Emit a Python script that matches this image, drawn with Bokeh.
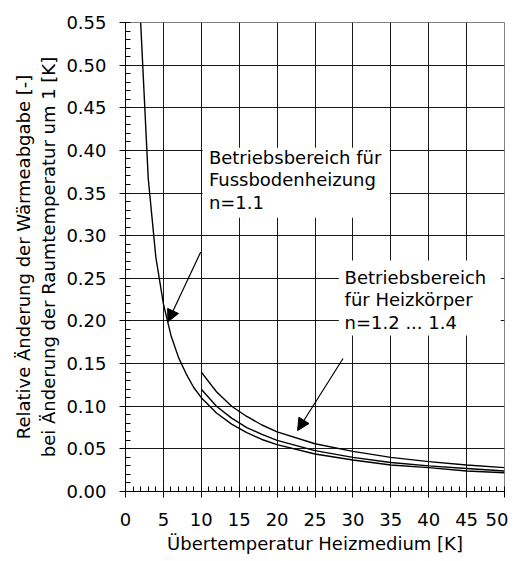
import numpy as np
from bokeh.plotting import figure
from bokeh.models import (Range1d, FixedTicker, Label, Arrow, NormalHead,
                          BoxAnnotation, NumeralTickFormatter)
from bokeh.embed import file_html
from bokeh.resources import INLINE

# ---- data ----
x_fbh = [2, 3, 4, 5, 6, 7, 8, 9, 10, 12, 14, 16, 18, 20, 25, 30, 35, 40, 45, 50]
y_fbh = [0.550, 0.367, 0.275, 0.220, 0.183, 0.157, 0.138, 0.122, 0.110, 0.092,
         0.079, 0.069, 0.061, 0.055, 0.044, 0.037, 0.031, 0.028, 0.024, 0.022]
x_hk = [10, 12, 14, 16, 18, 20, 25, 30, 35, 40, 45, 50]
y_hk12 = [0.120, 0.100, 0.086, 0.075, 0.067, 0.060, 0.048, 0.040, 0.034, 0.030, 0.027, 0.024]
y_hk14 = [0.140, 0.117, 0.100, 0.088, 0.078, 0.070, 0.056, 0.047, 0.040, 0.035, 0.031, 0.028]

x_ticks = [0, 5, 10, 15, 20, 25, 30, 35, 40, 45, 50]
y_ticks = [0.00, 0.05, 0.10, 0.15, 0.20, 0.25, 0.30, 0.35, 0.40, 0.45, 0.50, 0.55]

x_title = "Übertemperatur Heizmedium [K]"
y_title = "Relative Änderung der Wärmeabgabe [-]\nbei Änderung der Raumtemperatur um 1 [K]"
note_fbh = "Betriebsbereich für\nFussbodenheizung\nn=1.1"
note_hk = "Betriebsbereich\nfür Heizkörper\nn=1.2 ... 1.4"

FONT = "DejaVu Sans"
FS = "18px"

p = figure(frame_width=379, frame_height=469,
           x_range=Range1d(0, 50), y_range=Range1d(0, 0.55),
           output_backend="svg", toolbar_location=None,
           min_border_left=125, min_border_right=4,
           min_border_top=22, min_border_bottom=66,
           background_fill_color="white", border_fill_color="white",
           outline_line_color="#808080", outline_line_width=1)

# grid
p.xaxis.ticker = FixedTicker(ticks=x_ticks, minor_ticks=list(range(0, 51)))
p.yaxis.ticker = FixedTicker(ticks=y_ticks,
                             minor_ticks=[round(0.01 * i, 2) for i in range(56)])
p.grid.grid_line_color = "black"
p.grid.grid_line_alpha = 0.9
p.grid.grid_line_width = 1

for ax in (p.xaxis, p.yaxis):
    ax.axis_line_color = "black"
    ax.axis_line_width = 1
    ax.major_tick_line_color = "black"
    ax.minor_tick_line_color = "black"
    ax.major_tick_out = 6
    ax.major_tick_in = 0
    ax.minor_tick_in = 5
    ax.minor_tick_out = 0
    ax.major_label_text_font = FONT
    ax.major_label_text_font_size = FS
    ax.major_label_text_color = "black"
    ax.axis_label_text_font = FONT
    ax.axis_label_text_font_size = FS
    ax.axis_label_text_font_style = "normal"
    ax.axis_label_text_color = "black"

p.yaxis.formatter = NumeralTickFormatter(format="0.00")
p.xaxis.major_label_standoff = 15
p.yaxis.major_label_standoff = 13
p.xaxis.axis_label = x_title
p.yaxis.axis_label = y_title
p.xaxis.axis_label_standoff = 4
p.yaxis.axis_label_standoff = 4

# curves
p.line(x_fbh, y_fbh, line_color="black", line_width=1.4)
p.line(x_hk, y_hk12, line_color="black", line_width=1.4)
p.line(x_hk, y_hk14, line_color="black", line_width=1.4)

# annotation boxes and texts
p.add_layout(BoxAnnotation(left=10.15, right=34.85, top=0.403, bottom=0.321,
                           fill_color="white", fill_alpha=1, line_alpha=0))
p.add_layout(BoxAnnotation(left=28.15, right=49.5, top=0.271, bottom=0.183,
                           fill_color="white", fill_alpha=1, line_alpha=0))

p.add_layout(Label(x=11.0, y=0.4045, text=note_fbh, anchor="top_left",
                   text_font=FONT, text_font_size=FS, text_color="black",
                   text_line_height=1.07))
p.add_layout(Label(x=28.9, y=0.2635, text=note_hk, anchor="top_left",
                   text_font=FONT, text_font_size=FS, text_color="black",
                   text_line_height=1.07))

# arrows
head = dict(size=12, fill_color="black", line_color="black")
p.add_layout(Arrow(end=NormalHead(**head), x_start=9.93, y_start=0.281,
                   x_end=5.6, y_end=0.199, line_color="black", line_width=1.2))
p.add_layout(Arrow(end=NormalHead(**head), x_start=28.7, y_start=0.156,
                   x_end=22.7, y_end=0.0715, line_color="black", line_width=1.2))

open("out.html", "w").write(file_html(p, INLINE))
